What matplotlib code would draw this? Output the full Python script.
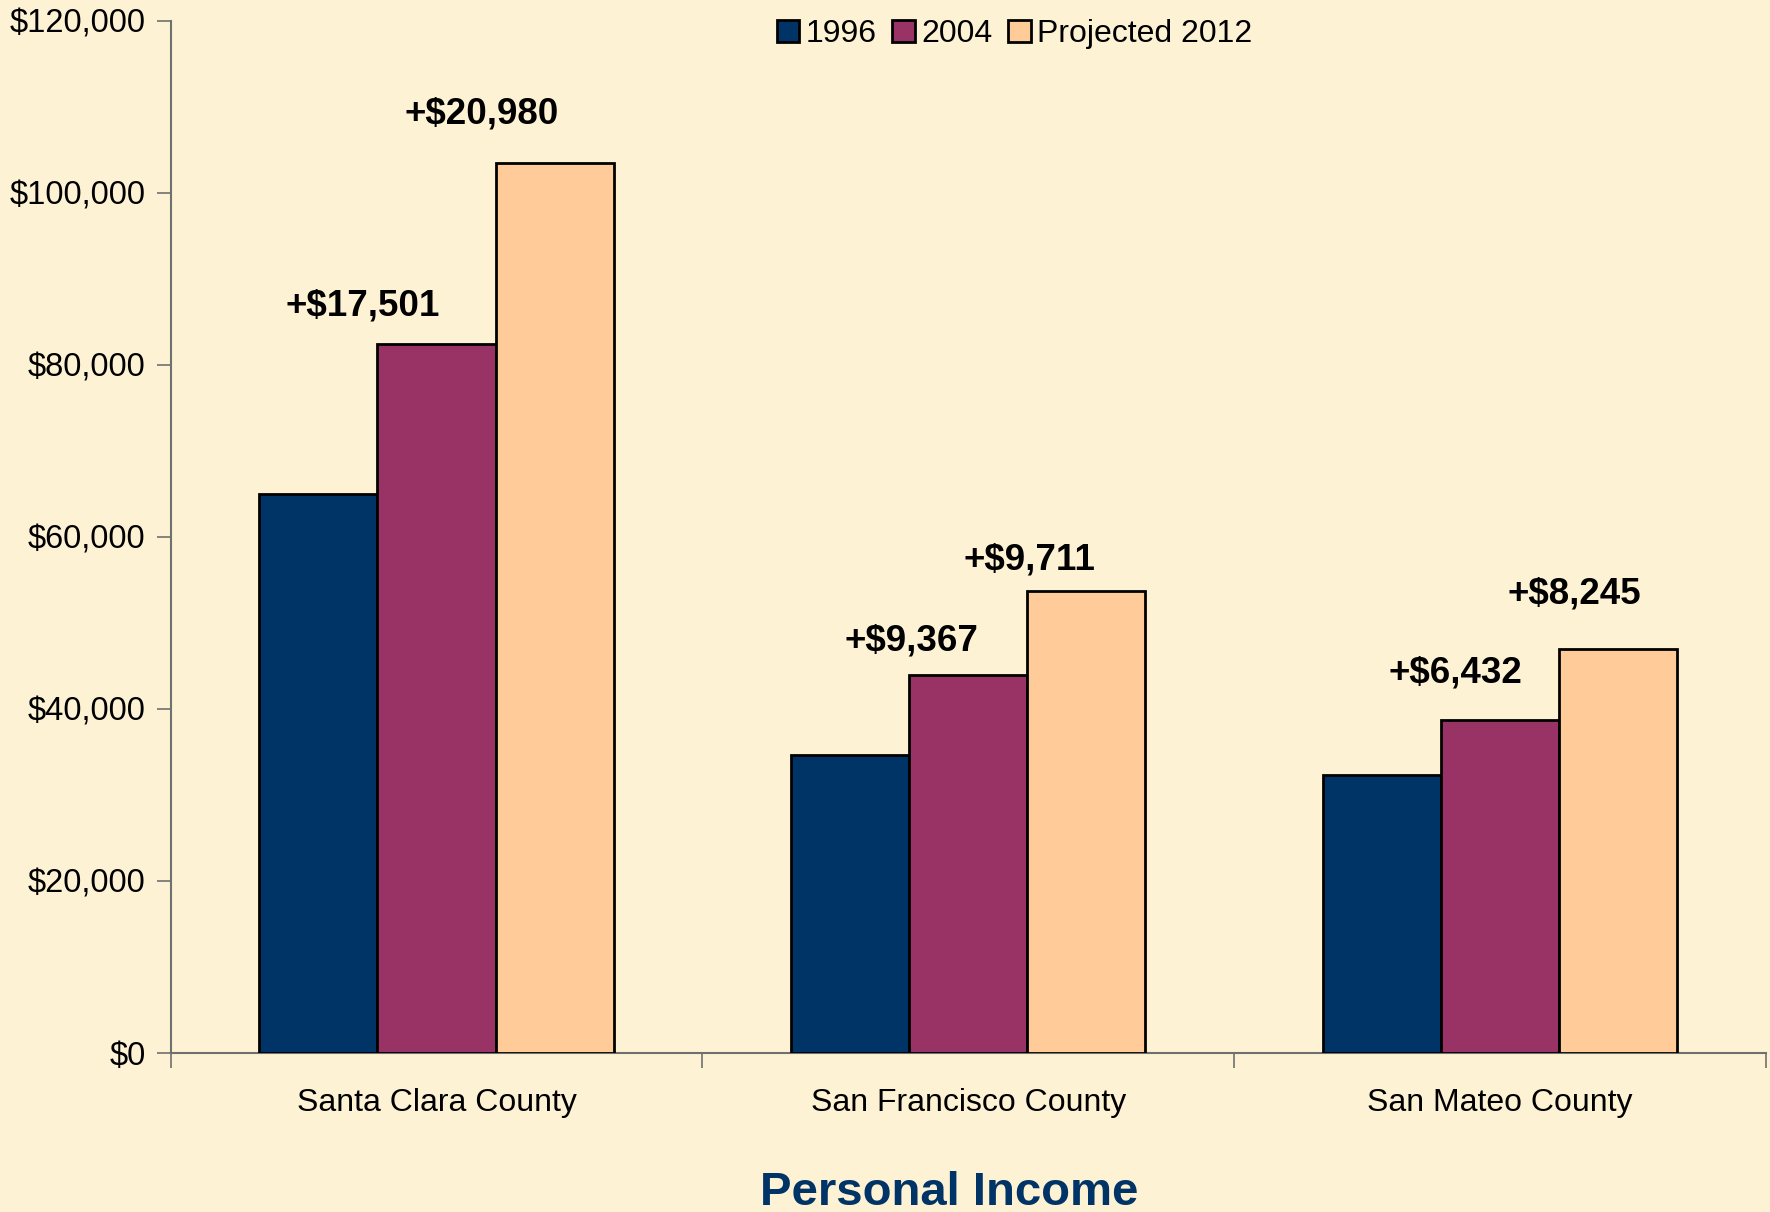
import matplotlib.pyplot as plt
import numpy as np
from matplotlib.ticker import FuncFormatter

plt.rcParams['font.family'] = ['Liberation Sans', 'DejaVu Sans']

counties = ['Santa Clara County', 'San Francisco County', 'San Mateo County']
series = ['1996', '2004', 'Projected 2012']
income_1996 = [64980, 34600, 32300]
income_2004 = [82481, 43967, 38732]
income_2012 = [103461, 53678, 46977]
change_2004 = ['+$17,501', '+$9,367', '+$6,432']
change_2012 = ['+$20,980', '+$9,711', '+$8,245']

colors = ['#003366', '#993366', '#FFCC99']
bg = '#FDF2D3'
# label placement, set by hand in the original
lift_2004 = [4400, 3950, 5500]
lift_2012 = [5750, 3600, 6450]
nudge = [-0.027, 0.004, 0.028]

fig = plt.figure(figsize=(17.7, 12.12), dpi=100, facecolor=bg)
ax = fig.add_axes([0.0964, 0.1312, 0.9013, 0.8515], facecolor=bg)

x = np.arange(len(counties))
w = 0.222
for i, vals in enumerate([income_1996, income_2004, income_2012]):
    ax.bar(x + (i - 1) * w, vals, w, color=colors[i], edgecolor='black',
           linewidth=2.0, label=series[i], zorder=3)

for j in range(len(counties)):
    ax.text(x[j] - w / 2 + nudge[j], income_2004[j] + lift_2004[j], change_2004[j],
            ha='center', va='center', fontsize=26.5, fontweight='bold')
    ax.text(x[j] + w / 2 + nudge[j], income_2012[j] + lift_2012[j], change_2012[j],
            ha='center', va='center', fontsize=26.5, fontweight='bold')

ax.set_xlim(-0.5, 2.5)
ax.set_ylim(0, 120000)
ax.set_yticks(np.arange(0, 120001, 20000))
ax.yaxis.set_major_formatter(FuncFormatter(lambda v, p: '${:,.0f}'.format(v)))
ax.set_xticks([-0.5, 0.5, 1.5, 2.5])
ax.set_xticklabels([])
ax.set_xticks(x, minor=True)
ax.set_xticklabels(counties, minor=True)
ax.tick_params(axis='x', which='minor', length=0, pad=25, labelsize=23)
ax.tick_params(axis='x', which='major', length=11, width=1.2, color='#707070')
ax.tick_params(axis='y', length=10, width=1.2, color='#707070', labelsize=23.5, pad=8)

for s in ['top', 'right']:
    ax.spines[s].set_visible(False)
for s in ['left', 'bottom']:
    ax.spines[s].set_color('#707070')
    ax.spines[s].set_linewidth(1.5)

ax.legend(loc='center', bbox_to_anchor=(0.529, 0.987), ncol=3, frameon=False,
          fontsize=23, handlelength=0.7, handleheight=0.7, handletextpad=0.2,
          columnspacing=0.5, borderpad=0)

fig.text(0.536, 0.006, 'Personal Income', ha='center', va='baseline',
         fontsize=34, fontweight='bold', color='#003366')

fig.savefig('out.png', dpi=100, facecolor=bg)
